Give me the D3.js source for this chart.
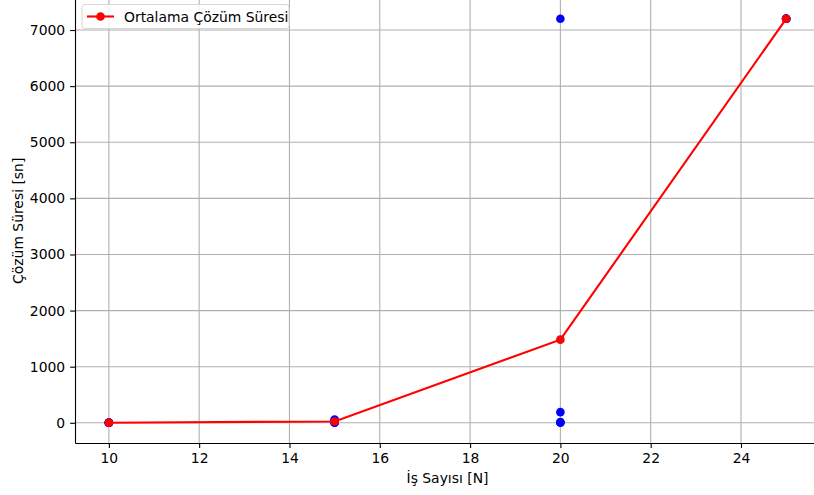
<!DOCTYPE html>
<html>
<head>
<meta charset="utf-8">
<script src="https://cdn.jsdelivr.net/npm/d3@7"></script>
<style>
  body { margin: 0; background: #fff; }
  svg { display: block; font-family: "DejaVu Sans", sans-serif; }
</style>
</head>
<body>
<div id="chart"></div>
<script>
// values
const jobCounts = [10, 15, 20, 25];
const runTimes10 = [1, 2, 1, 3, 2];
const runTimes15 = [2, 5, 8, 45, 60];
const runTimes20 = [7200, 190, 15, 5, 0];
const runTimes25 = [7200, 7200, 7200, 7200, 7200];
const meanTimes = [2, 24, 1482, 7200];
const xTicks = [10, 12, 14, 16, 18, 20, 22, 24];
const yTicks = [0, 1000, 2000, 3000, 4000, 5000, 6000, 7000];

const width = 814, height = 495;
const margin = {left: 75, right: -6, top: -1.4, bottom: 52};

const svg = d3.select('#chart').append('svg')
    .attr('width', width)
    .attr('height', height);

const x = d3.scaleLinear().domain([9.25, 25.75]).range([margin.left, width - margin.right]);
const y = d3.scaleLinear().domain([-360, 7560]).range([height - margin.bottom, margin.top]);

// grid
const grid = svg.append('g');
xTicks.forEach(t => {
    grid.append('line')
        .attr('x1', x(t)).attr('x2', x(t))
        .attr('y1', y.range()[0]).attr('y2', y.range()[1])
        .attr('stroke', '#b0b0b0').attr('stroke-width', 1.1);
});
yTicks.forEach(t => {
    grid.append('line')
        .attr('x1', x.range()[0]).attr('x2', x.range()[1])
        .attr('y1', y(t)).attr('y2', y(t))
        .attr('stroke', '#b0b0b0').attr('stroke-width', 1.1);
});

// axes
const xAxis = svg.append('g')
    .attr('transform', `translate(0,${y.range()[0]})`)
    .call(d3.axisBottom(x).tickValues(xTicks).tickFormat(d3.format('d'))
        .tickSize(4.9).tickPadding(4.9).tickSizeOuter(0));
const yAxis = svg.append('g')
    .attr('transform', `translate(${x.range()[0]},0)`)
    .call(d3.axisLeft(y).tickValues(yTicks).tickFormat(d3.format('d'))
        .tickSize(4.9).tickPadding(4.9).tickSizeOuter(0));

[xAxis, yAxis].forEach(a => {
    a.selectAll('text').attr('font-size', 13.9).attr('fill', '#000').attr('font-family', '"DejaVu Sans", sans-serif');
    a.selectAll('line').attr('stroke', '#000').attr('stroke-width', 1.1);
    a.select('.domain').attr('stroke', '#000').attr('stroke-width', 1.1);
});

// scatter of individual runs
const runs = [runTimes10, runTimes15, runTimes20, runTimes25];
const points = [];
runs.forEach((arr, i) => arr.forEach(v => points.push({n: jobCounts[i], t: v})));

svg.append('g').selectAll('circle')
    .data(points)
    .enter().append('circle')
    .attr('cx', d => x(d.n))
    .attr('cy', d => y(d.t))
    .attr('r', 4.3)
    .attr('fill', '#0000ff');

// mean line
const line = d3.line().x((d, i) => x(jobCounts[i])).y(d => y(d));
svg.append('path')
    .datum(meanTimes)
    .attr('d', line)
    .attr('fill', 'none')
    .attr('stroke', '#ff0000')
    .attr('stroke-width', 2.1);

svg.append('g').selectAll('circle')
    .data(meanTimes)
    .enter().append('circle')
    .attr('cx', (d, i) => x(jobCounts[i]))
    .attr('cy', d => y(d))
    .attr('r', 4.3)
    .attr('fill', '#ff0000');

// axis labels
svg.append('text')
    .attr('x', (x.range()[0] + x.range()[1]) / 2)
    .attr('y', 483)
    .attr('text-anchor', 'middle')
    .attr('font-size', 13.9)
    .text('İş Sayısı [N]');

svg.append('text')
    .attr('transform', `translate(23,${(y.range()[0] + y.range()[1]) / 2}) rotate(-90)`)
    .attr('text-anchor', 'middle')
    .attr('font-size', 13.9)
    .text('Çözüm Süresi [sn]');

// legend
const legend = svg.append('g').attr('transform', 'translate(82,4.5)');
legend.append('rect')
    .attr('width', 207).attr('height', 24)
    .attr('rx', 3)
    .attr('fill', 'rgba(255,255,255,0.8)')
    .attr('stroke', '#d6d6d6');
legend.append('line')
    .attr('x1', 5).attr('x2', 32).attr('y1', 12).attr('y2', 12)
    .attr('stroke', '#ff0000').attr('stroke-width', 2.1);
legend.append('circle')
    .attr('cx', 18.5).attr('cy', 12).attr('r', 4.3).attr('fill', '#ff0000');
legend.append('text')
    .attr('x', 42).attr('y', 17)
    .attr('font-size', 13.9)
    .text('Ortalama Çözüm Süresi');
</script>
</body>
</html>
